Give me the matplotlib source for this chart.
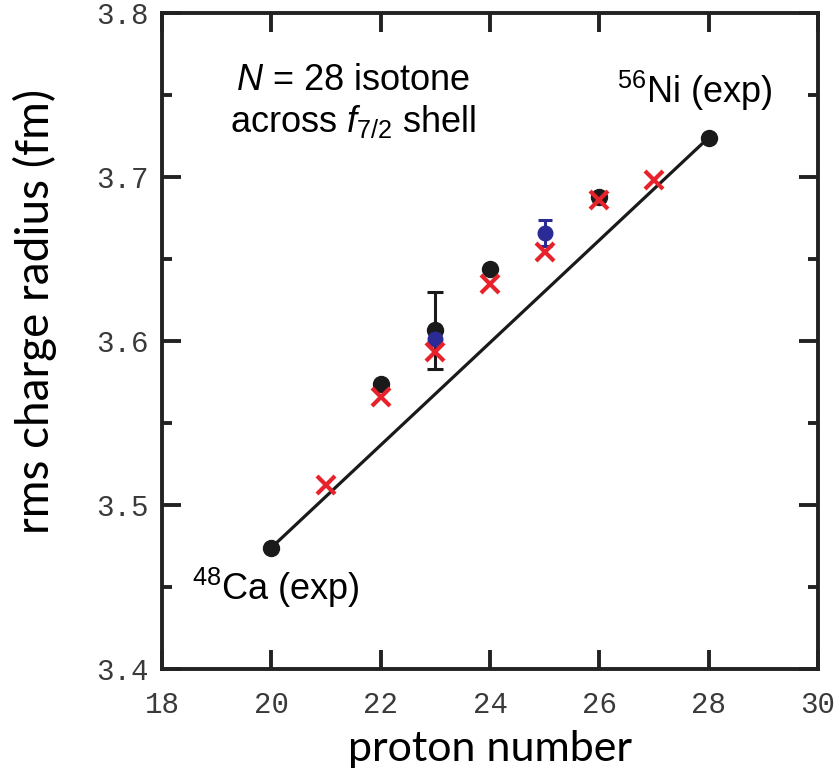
import numpy as np
import matplotlib
matplotlib.use("Agg")
import matplotlib.pyplot as plt

plt.rcParams['mathtext.fontset'] = 'custom'
plt.rcParams['mathtext.rm'] = 'Liberation Sans'
plt.rcParams['mathtext.it'] = 'Liberation Sans:italic'

# experimental radii (black), N = 28 isotones
z_exp = [20, 22, 23, 24, 26, 28]
r_exp = [3.474, 3.574, 3.607, 3.644, 3.688, 3.724]
# error bar only on Z = 23
z_exp_err = [23]
r_exp_err = [3.6065]
e_exp_err = [0.0235]

# other data (blue)
z_blue = [23, 25]
r_blue = [3.601, 3.666]
e_blue = [0.0, 0.008]

# calculation (red crosses)
z_calc = [21, 22, 23, 24, 25, 26, 27]
r_calc = [3.512, 3.566, 3.593, 3.635, 3.654, 3.686, 3.698]

# straight line between 48Ca and 56Ni
z_line = [20, 28]
r_line = [3.474, 3.724]

fig = plt.figure(figsize=(8.4, 7.78), dpi=100)
ax = fig.add_axes([0.1929, 0.1401, 0.7809, 0.8432])

ax.plot(z_line, r_line, color='#1a1a1a', lw=2.3, zorder=2)
ax.errorbar(z_exp_err, r_exp_err, yerr=e_exp_err, fmt='none', ecolor='#1a1a1a',
            elinewidth=2.2, capsize=6, capthick=2.2, zorder=3)
ax.plot(z_exp, r_exp, 'o', color='#1a1a1a', ms=11.5, zorder=4)
ax.errorbar(z_blue, r_blue, yerr=e_blue, fmt='o', color='#2b2b96', ms=10.5,
            elinewidth=2.2, capsize=5, capthick=2.2, zorder=5)
ax.plot(z_calc, r_calc, 'x', color='#e8222b', ms=12.5, mew=3, zorder=6)

ax.set_xlim(18, 30)
ax.set_ylim(3.4, 3.8)
ax.set_xticks(np.arange(18, 31, 2))
ax.set_yticks(np.arange(3.4, 3.81, 0.1))
ax.set_yticks(np.arange(3.45, 3.8, 0.1), minor=True)
ax.set_yticklabels(['3.4', '3.5', '3.6', '3.7', '3.8'])

for s in ax.spines.values():
    s.set_linewidth(2.8)
    s.set_color('#222222')

ax.tick_params(which='major', direction='in', length=14, width=2.8,
               top=True, right=True, color='#222222')
ax.tick_params(which='minor', direction='in', length=7, width=2.8,
               left=True, right=True, color='#222222')
ax.tick_params(axis='x', pad=15.5)
ax.tick_params(axis='y', pad=10)
for lab in ax.get_xticklabels() + ax.get_yticklabels():
    lab.set_fontfamily('Liberation Mono')
    lab.set_fontsize(21)
    lab.set_color('#3a3a3a')

ax.set_xlabel('proton number', fontfamily='Lato', fontsize=31, labelpad=8)
ax.set_ylabel('rms charge radius (fm)', fontfamily='Lato', fontsize=33)
ax.yaxis.set_label_coords(-0.16, 0.545)

tk = dict(fontfamily='Liberation Sans', fontsize=26, color='black')
ax.text(21.49, 3.753, '$N$ = 28 isotone', ha='center', va='baseline', **tk)
ax.text(21.49, 3.7274, 'across $f_{7/2}$ shell', ha='center', va='baseline', **tk)
ax.text(26.32, 3.745, '$^{56}$Ni (exp)', ha='left', va='baseline', **tk)
ax.text(18.55, 3.442, '$^{48}$Ca (exp)', ha='left', va='baseline', **tk)

fig.savefig('out.png', dpi=100)
